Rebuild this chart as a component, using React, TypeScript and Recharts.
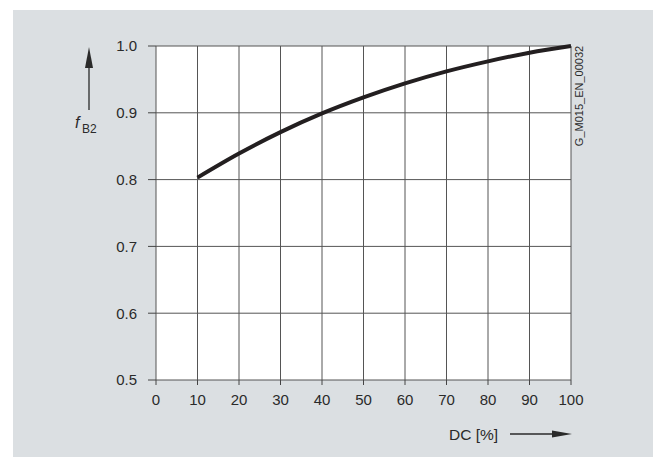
import { LineChart, Line, XAxis, YAxis, CartesianGrid } from 'recharts';

const dutyCycle = [10, 20, 30, 40, 50, 60, 70, 80, 90, 100];
const factorB2 = [0.803, 0.839, 0.871, 0.899, 0.923, 0.944, 0.962, 0.977, 0.99, 1.0];
const xTicks = [0, 10, 20, 30, 40, 50, 60, 70, 80, 90, 100];
const yTicks = [0.5, 0.6, 0.7, 0.8, 0.9, 1.0];

const data = dutyCycle.map((dc, i) => ({ dc, f: factorB2[i] }));

const font = '"Liberation Sans", Arial, sans-serif';
const ink = '#2a2a2a';

export default function App() {
  return (
    <div style={{ position: 'absolute', left: 0, top: 0, width: 653, height: 457, background: '#fff', fontFamily: font }}>
      <div style={{ position: 'absolute', left: 13, top: 10, width: 640, height: 447, background: '#dbdfe2' }}>
        <LineChart width={640} height={447} data={data} margin={{ top: 36, right: 82, left: 0, bottom: 47 }}>
          <CartesianGrid stroke="#555" strokeWidth={1} fill="#fff" fillOpacity={1} />
          <XAxis
            dataKey="dc"
            type="number"
            domain={[0, 100]}
            ticks={xTicks}
            axisLine={false}
            tickSize={5}
            tickMargin={9}
            tickLine={{ stroke: '#444' }}
            tick={{ fill: ink, fontSize: 15, fontFamily: font }}
            height={30}
          />
          <YAxis
            type="number"
            domain={[0.5, 1]}
            ticks={yTicks}
            tickFormatter={(v: number) => v.toFixed(1)}
            axisLine={false}
            tickSize={8}
            tickMargin={11}
            tickLine={{ stroke: '#444' }}
            tick={{ fill: ink, fontSize: 15, fontFamily: font }}
            width={143}
          />
          <Line
            type="monotone"
            dataKey="f"
            stroke="#231f20"
            strokeWidth={4}
            dot={false}
            isAnimationActive={false}
          />
        </LineChart>
      </div>
      <svg width={653} height={457} style={{ position: 'absolute', left: 0, top: 0, pointerEvents: 'none' }}>
        <line x1={89} y1={110} x2={89} y2={64} stroke={ink} strokeWidth={1.3} />
        <polygon points="89,47 85,68 93,68" fill={ink} />
        <text x={75} y={128} fontSize={16} fontStyle="italic" fill={ink} fontFamily={font}>f</text>
        <text x={82} y={133} fontSize={12} fill={ink} fontFamily={font}>B2</text>
        <text x={449} y={440} fontSize={15.5} fill={ink} fontFamily={font}>DC [%]</text>
        <line x1={510} y1={434} x2={556} y2={434} stroke={ink} strokeWidth={1.3} />
        <polygon points="572,434 552,430.5 552,437.5" fill={ink} />
        <text
          x={579}
          y={96}
          fontSize={11}
          fill={ink}
          fontFamily={font}
          textAnchor="middle"
          dominantBaseline="central"
          transform="rotate(-90 579 96)"
        >
          G_M015_EN_00032
        </text>
      </svg>
    </div>
  );
}
